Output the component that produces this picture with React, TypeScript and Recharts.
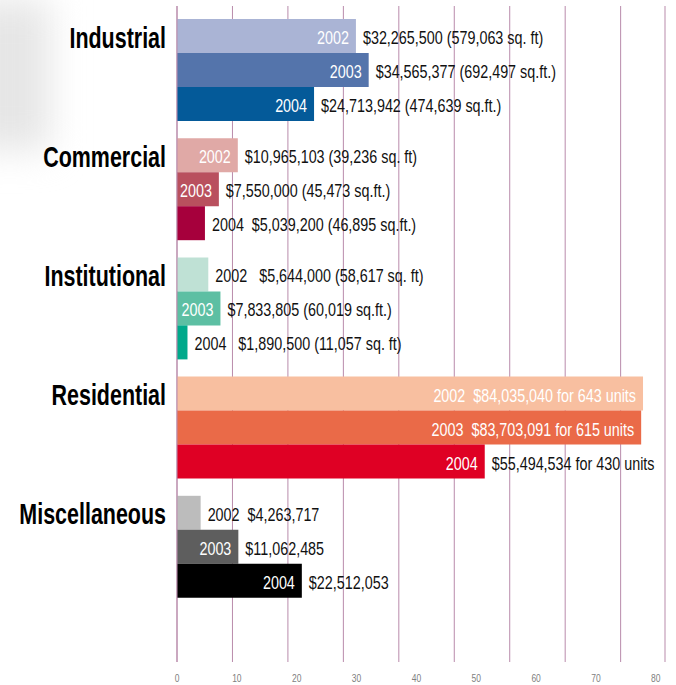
import { BarChart, Bar, XAxis, YAxis, CartesianGrid, Cell, LabelList } from 'recharts'

const categories = ['Industrial', 'Commercial', 'Institutional', 'Residential', 'Miscellaneous']

// dollar values in millions
const values2002 = [32.2655, 10.965103, 5.644, 84.03504, 4.263717]
const values2003 = [34.565377, 7.55, 7.833805, 83.703091, 11.062485]
const values2004 = [24.713942, 5.0392, 1.8905, 55.494534, 22.512053]

// text drawn inside the bar (white) and after it (black)
const inner2002 = ['2002', '2002', '', '2002  $84,035,040 for 643 units', '']
const outer2002 = [
	'$32,265,500 (579,063 sq. ft)',
	'$10,965,103 (39,236 sq. ft)',
	'2002   $5,644,000 (58,617 sq. ft)',
	'',
	'2002  $4,263,717',
]
const inner2003 = ['2003', '2003', '2003', '2003  $83,703,091 for 615 units', '2003']
const outer2003 = [
	'$34,565,377 (692,497 sq.ft.)',
	'$7,550,000 (45,473 sq.ft.)',
	'$7,833,805 (60,019 sq.ft.)',
	'',
	'$11,062,485',
]
const inner2004 = ['2004', '', '', '2004', '2004']
const outer2004 = [
	'$24,713,942 (474,639 sq.ft.)',
	'2004  $5,039,200 (46,895 sq.ft.)',
	'2004   $1,890,500 (11,057 sq. ft)',
	'$55,494,534 for 430 units',
	'$22,512,053',
]

const colors2002 = ['#aab4d5', '#e0a9a6', '#bfe1d5', '#f8bfa0', '#bcbcbc']
const colors2003 = ['#5474ab', '#b9505e', '#5dbfa3', '#ea6a48', '#5e5e5e']
const colors2004 = ['#045a99', '#a6003c', '#00a98b', '#df0024', '#000000']

const xTicks = [0, 10, 20, 30, 40, 50, 60, 70, 80]

const data = categories.map((name, i) => ({
	name,
	y2002: values2002[i],
	y2003: values2003[i],
	y2004: values2004[i],
}))

const sans = '"Liberation Sans", Arial, sans-serif'

// no condensed face installed, so squeeze Liberation Sans horizontally
const Narrow = ({ x, y, sx, anchor, fill, size, bold, children }: any) => (
	<text
		transform={`translate(${x},${y}) scale(${sx},1)`}
		textAnchor={anchor}
		fill={fill}
		fontSize={size}
		fontWeight={bold ? 'bold' : 'normal'}
		fontFamily={sans}
		style={{ whiteSpace: 'pre' }}
	>
		{children}
	</text>
)

const barLabel = (inner: string[], outer: string[]) => (props: any) => {
	const { x, y, width, height, index } = props
	const base = y + height / 2 + 8
	const end = x + width
	return (
		<g>
			{inner[index] ? (
				<Narrow x={end - 7} y={base} sx={0.82} anchor='end' fill='#ffffff' size={17.5}>
					{inner[index]}
				</Narrow>
			) : null}
			{outer[index] ? (
				<Narrow x={end + 7} y={base} sx={0.82} anchor='start' fill='#111111' size={17.5}>
					{outer[index]}
				</Narrow>
			) : null}
		</g>
	)
}

const CategoryTick = ({ x, y, payload }: any) => (
	<Narrow x={x} y={y - 22} sx={0.74} anchor='end' fill='#000000' size={29} bold>
		{payload.value}
	</Narrow>
)

// the printed scale labels drift a little right of the grid lines
const ValueTick = ({ x, y, payload }: any) => (
	<Narrow x={x + payload.value * 0.44} y={y + 20} sx={0.85} anchor='middle' fill='#808080' size={10}>
		{payload.value}
	</Narrow>
)

export default function App() {
	return (
		<div
			style={{
				position: 'absolute',
				left: 0,
				top: 0,
				width: 676,
				height: 685,
				overflow: 'hidden',
				background: '#ffffff',
			}}
		>
			<div
				style={{
					position: 'absolute',
					left: -30,
					top: 0,
					width: 80,
					height: 150,
					background: '#e6e6e6',
					filter: 'blur(18px)',
				}}
			/>
			<div style={{ position: 'absolute', left: 0, top: 0 }}>
				<BarChart
					width={676}
					height={685}
					data={data}
					layout='vertical'
					barGap={0}
					margin={{ top: 6, right: 11, bottom: 0, left: 0 }}
				>
					<CartesianGrid horizontal={false} stroke='#b98bab' />
					<XAxis
						type='number'
						domain={[0, 88]}
						allowDataOverflow
						ticks={xTicks}
						interval={0}
						axisLine={false}
						tickLine={false}
						tickSize={0}
						tickMargin={0}
						height={23}
						tick={<ValueTick />}
					/>
					<YAxis
						type='category'
						dataKey='name'
						width={177}
						axisLine={{ stroke: '#b98bab' }}
						tickLine={false}
						tickSize={0}
						tickMargin={11}
						padding={{ top: 4, bottom: 56 }}
						tick={<CategoryTick />}
					/>
					<Bar dataKey='y2002' barSize={34} isAnimationActive={false}>
						{colors2002.map((c, i) => (
							<Cell key={i} fill={c} />
						))}
						<LabelList dataKey='y2002' content={barLabel(inner2002, outer2002)} />
					</Bar>
					<Bar dataKey='y2003' barSize={34} isAnimationActive={false}>
						{colors2003.map((c, i) => (
							<Cell key={i} fill={c} />
						))}
						<LabelList dataKey='y2003' content={barLabel(inner2003, outer2003)} />
					</Bar>
					<Bar dataKey='y2004' barSize={34} isAnimationActive={false}>
						{colors2004.map((c, i) => (
							<Cell key={i} fill={c} />
						))}
						<LabelList dataKey='y2004' content={barLabel(inner2004, outer2004)} />
					</Bar>
				</BarChart>
			</div>
		</div>
	)
}
